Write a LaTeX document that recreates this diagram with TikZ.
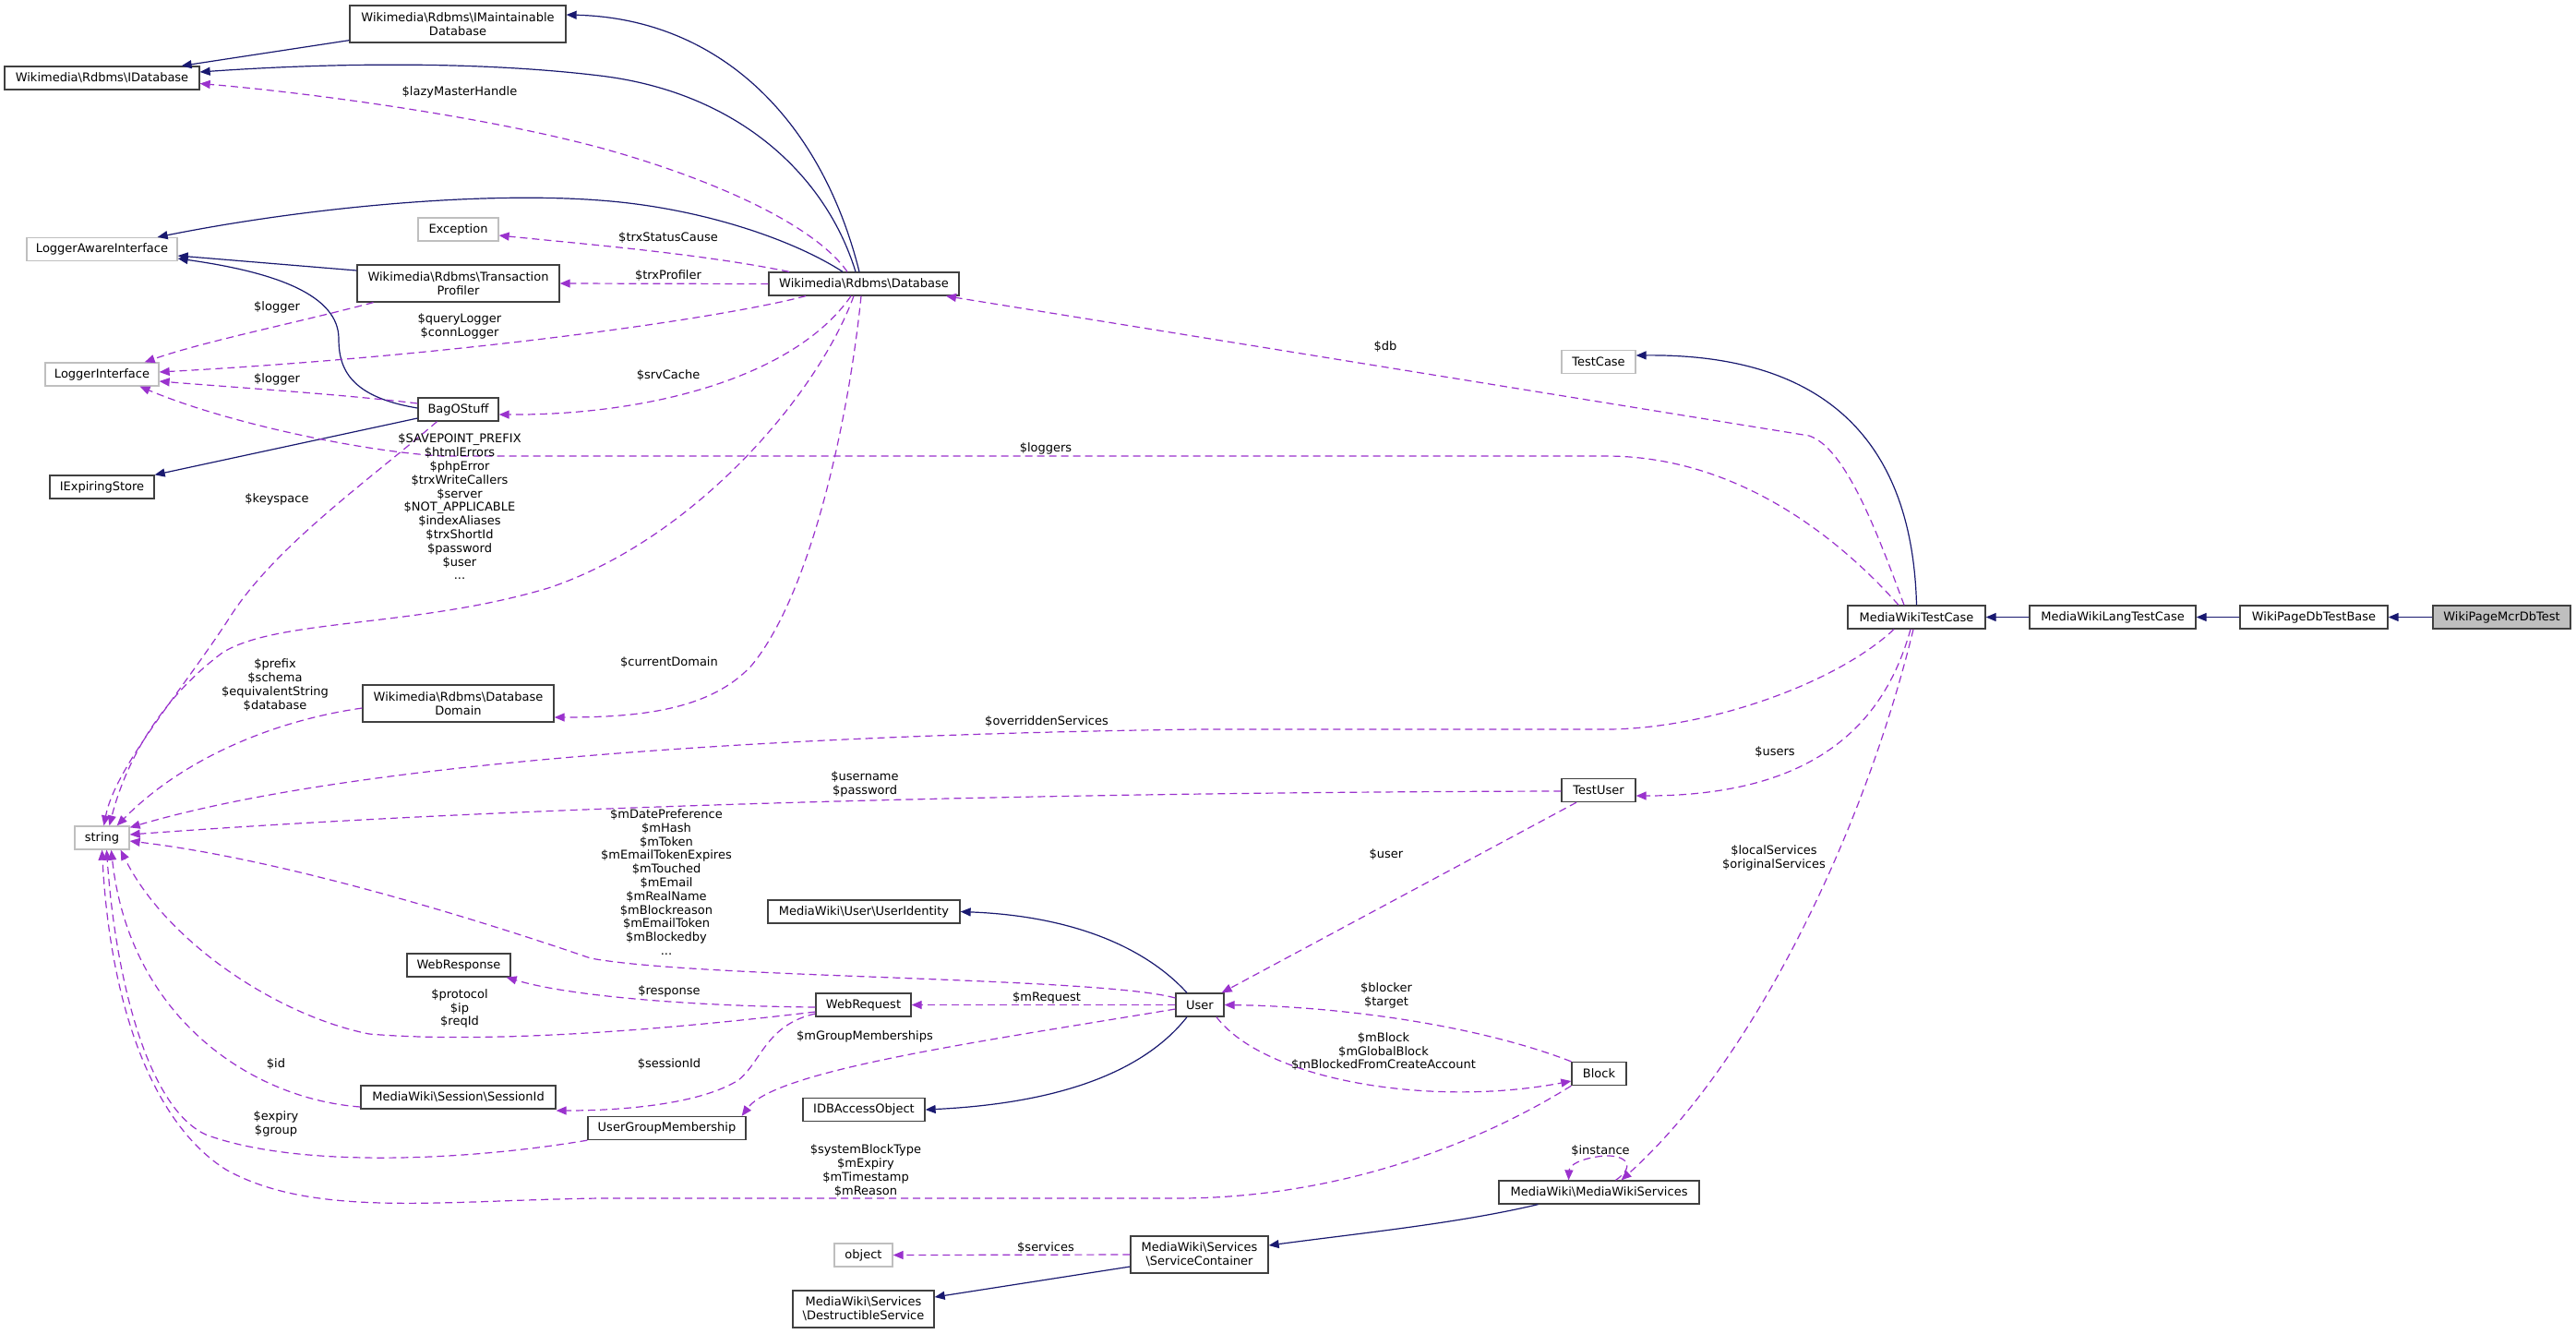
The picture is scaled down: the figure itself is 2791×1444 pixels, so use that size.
\documentclass[tikz,border=0pt]{standalone}
\usepackage{fontspec}
\setmainfont{DejaVu Sans}
\usetikzlibrary{arrows.meta}
\definecolor{inhblue}{RGB}{25,25,112}
\definecolor{useorchid}{RGB}{154,50,205}
\definecolor{boxgray}{RGB}{191,191,191}
\newcommand{\dxfont}{\fontsize{13}{14.8}\selectfont}
\newcommand{\dxbs}{\textbackslash}

\begin{document}
\begin{tikzpicture}[x=1pt, y=-1pt,
    cls/.style={draw=black!75, line width=1.3pt, fill=white, font=\dxfont,
               align=center, inner sep=0pt, minimum height=25pt},
    tall/.style={cls, minimum height=40pt},
    extcls/.style={cls, draw=boxgray},
    inh/.style={inhblue, line width=1.2pt, -{Triangle[length=11pt,width=9pt]}},
    member/.style={useorchid, line width=1.2pt, dash pattern=on 8pt off 5pt,
               -{Triangle[length=11pt,width=9pt]}},
    lbl/.style={font=\dxfont, align=center, inner sep=0pt}]
    \path[use as bounding box, fill=white] (0,0) rectangle (2791,1444);

    % Column 1
    \node[cls, minimum width=211pt] (idb) at (110.5,84.5) {Wikimedia\dxbs Rdbms\dxbs IDatabase};
    \node[extcls, minimum width=163pt] (lai) at (110.5,270) {LoggerAwareInterface};
    \node[extcls, minimum width=123pt] (li) at (110.5,405.5) {LoggerInterface};
    \node[cls, minimum width=113pt] (ies) at (110.5,527.5) {IExpiringStore};
    \node[extcls, minimum width=59pt] (str) at (110.5,907.5) {string};
    % Column 2
    \node[tall, minimum width=234pt] (imaint) at (496,26) {Wikimedia\dxbs Rdbms\dxbs IMaintainable\\Database};
    \node[extcls, minimum width=87pt] (exc) at (496.5,248.5) {Exception};
    \node[tall, minimum width=219pt] (trxprof) at (496.5,307) {Wikimedia\dxbs Rdbms\dxbs Transaction\\Profiler};
    \node[cls, minimum width=87pt] (bag) at (496.5,443.5) {BagOStuff};
    \node[tall, minimum width=207pt] (dbdom) at (496.5,762) {Wikimedia\dxbs Rdbms\dxbs Database\\Domain};
    \node[cls, minimum width=112pt] (wresp) at (497,1045.5) {WebResponse};
    \node[cls, minimum width=211pt] (sessid) at (496.5,1188.5) {MediaWiki\dxbs Session\dxbs SessionId};
    \node[cls, minimum width=171pt] (ugm) at (722.5,1222) {UserGroupMembership};
    % Column 3
    \node[cls, minimum width=206pt] (dbase) at (936,307.5) {Wikimedia\dxbs Rdbms\dxbs Database};
    \node[cls, minimum width=208pt] (uid) at (936,987.5) {MediaWiki\dxbs User\dxbs UserIdentity};
    \node[cls, minimum width=103pt] (wreq) at (935.5,1088.5) {WebRequest};
    \node[cls, minimum width=132pt] (idbao) at (936,1202) {IDBAccessObject};
    \node[extcls, minimum width=63pt] (obj) at (935.5,1359.5) {object};
    \node[tall, minimum width=153pt] (destr) at (935.5,1418) {MediaWiki\dxbs Services\\\dxbs DestructibleService};
    % Column 4
    \node[cls, minimum width=52pt] (user) at (1300,1088.5) {User};
    \node[tall, minimum width=149pt] (svcc) at (1299.5,1359) {MediaWiki\dxbs Services\\\dxbs ServiceContainer};
    % Column 5
    \node[extcls, minimum width=80pt] (tcase) at (1732,392) {TestCase};
    \node[cls, minimum width=80pt] (tuser) at (1732,856) {TestUser};
    \node[cls, minimum width=59pt] (block) at (1732.5,1163) {Block};
    \node[cls, minimum width=217pt] (mws) at (1732.5,1291.5) {MediaWiki\dxbs MediaWikiServices};
    % Test case chain
    \node[cls, minimum width=149pt] (mwtc) at (2076.5,668.5) {MediaWikiTestCase};
    \node[cls, minimum width=180pt] (mwltc) at (2289,668.5) {MediaWikiLangTestCase};
    \node[cls, minimum width=160pt] (wpdtb) at (2507,668.5) {WikiPageDbTestBase};
    \node[cls, minimum width=149pt, fill=boxgray] (wpmdt) at (2710.5,668.5) {WikiPageMcrDbTest};

    % Inheritance
    \draw[inh] ([yshift=3pt]imaint.south west) -- ([xshift=-20pt]idb.north east);
    \draw[inh] ([xshift=-5pt]dbase.north) .. controls (890,130) and (780,20) .. ([yshift=10pt]imaint.east);
    \draw[inh] ([xshift=-9pt]dbase.north) .. controls (895,190) and (800,100) .. (650,82)
      .. controls (500,64) and (330,70) .. ([yshift=6.5pt]idb.east);
    \draw[inh] ([xshift=-23pt]dbase.north) .. controls (860,260) and (760,225) .. (650,217)
      .. controls (520,207) and (330,225) .. ([xshift=-22pt]lai.north east);
    \draw[inh] ([yshift=14pt]trxprof.west) -- ([yshift=-7pt]lai.east);
    \draw[inh] ([yshift=1.5pt]bag.west) .. controls (380,430) and (367,400) .. (367,367)
      .. controls (367,320) and (300,295) .. ([yshift=-10pt]lai.east);
    \draw[inh] ([yshift=-9.5pt]bag.west) -- (ies.north east);
    \draw[inh] (mwtc.north) .. controls (2072,480) and (1980,383) .. ([yshift=7pt]tcase.east);
    \draw[inh] (mwltc) -- (mwtc);
    \draw[inh] (wpdtb) -- (mwltc);
    \draw[inh] (wpmdt) -- (wpdtb);
    \draw[inh] ([xshift=-14pt]user.north) .. controls (1240,1025) and (1160,992) .. (uid.east);
    \draw[inh] ([xshift=-14pt]user.south) .. controls (1240,1160) and (1150,1195) .. (idbao.east);
    \draw[inh] ([xshift=43pt]mws.south west) .. controls (1580,1325) and (1480,1335) .. ([yshift=10pt]svcc.east);
    \draw[inh] ([yshift=-13pt]svcc.west) -- ([yshift=13pt]destr.east);

    % Members of Database
    \draw[member] ([xshift=-18pt]dbase.north) .. controls (880,240) and (760,190) .. (650,160)
      .. controls (520,125) and (330,100) .. ([yshift=-6pt]idb.east);
    \draw[member] ([xshift=-81pt]dbase.north) .. controls (760,275) and (640,265) .. ([yshift=-6.5pt]exc.east);
    \draw[member] (dbase.west) -- (trxprof.east);
    \draw[member] ([xshift=-63pt]dbase.south) .. controls (780,345) and (500,385) .. ([yshift=2.5pt]li.east);
    \draw[member] ([xshift=-14pt]dbase.south) .. controls (860,410) and (700,450) .. ([yshift=-5.5pt]bag.east);
    \draw[member] ([xshift=-11pt]dbase.south) .. controls (885,430) and (750,585) .. (594,637)
      .. controls (450,680) and (300,670) .. (241,707)
      .. controls (170,760) and (135,830) .. ([xshift=8pt]str.north);
    \draw[member] ([xshift=-3pt]dbase.south) .. controls (920,450) and (880,640) .. (815,720)
      .. controls (770,770) and (690,777) .. ([yshift=-15pt]dbdom.east);
    % Members of the other Rdbms classes
    \draw[member] ([xshift=-92pt]trxprof.south) .. controls (320,350) and (220,370) .. ([xshift=-16pt]li.north east);
    \draw[member] ([yshift=6.5pt]bag.west) .. controls (380,428) and (260,420) .. ([yshift=-7.5pt]li.east);
    \draw[member] ([xshift=-23pt]bag.south) .. controls (400,520) and (300,590) .. (250,667)
      .. controls (200,745) and (125,830) .. ([xshift=2pt]str.north);
    \draw[member] ([yshift=-5pt]dbdom.west) .. controls (300,780) and (200,820) .. ([xshift=-14pt]str.north east);
    % Members of MediaWikiTestCase
    \draw[member] ([xshift=-13.5pt]mwtc.north) .. controls (2035,580) and (2000,485) .. (1960,472)
      -- ([xshift=89pt]dbase.south);
    \draw[member] ([xshift=-19.5pt]mwtc.north) .. controls (1990,580) and (1880,494) .. (1740,494)
      -- (480,494) .. controls (400,490) and (250,460) .. ([xshift=41pt]li.south);
    \draw[member] ([xshift=-24.5pt]mwtc.south) .. controls (1990,740) and (1850,790) .. (1740,790)
      -- (1300,790) .. controls (900,795) and (400,820) .. ([yshift=-2pt]str.north east);
    \draw[member] ([xshift=-6.5pt]mwtc.south) .. controls (2040,790) and (1960,862) .. ([yshift=-6pt]tuser.east);
    \draw[member] ([xshift=-3.5pt]mwtc.south) .. controls (2020,900) and (1900,1150) .. ([xshift=24pt]mws.north);
    % Members of TestUser, User, Block
    \draw[member] ([yshift=-1pt]tuser.west) .. controls (1200,858) and (600,870) .. ([yshift=3.5pt]str.east);
    \draw[member] ([xshift=-24pt]tuser.south) -- ([xshift=-3pt]user.north east);
    \draw[member] ([yshift=7.5pt]user.west) .. controls (1190,1058) and (760,1060) .. (640,1038)
      .. controls (500,990) and (300,930) .. ([yshift=-3.5pt]str.east);
    \draw[member] (user.west) -- (wreq.east);
    \draw[member] ([yshift=-4.5pt]user.west) .. controls (1050,1130) and (840,1160) .. ([xshift=-5pt]ugm.north east);
    \draw[member] ([xshift=18pt]user.south) .. controls (1370,1170) and (1550,1200) .. ([yshift=-8pt]block.west);
    \draw[member] (block.north west) .. controls (1600,1110) and (1450,1090) .. (user.east);
    \draw[member] (block.south west) .. controls (1600,1240) and (1450,1297) .. (1280,1298)
      -- (650,1298) .. controls (480,1300) and (340,1320) .. (245,1267)
      .. controls (170,1220) and (120,1100) .. (str.south);
    % Members of WebRequest and friends
    \draw[member] ([yshift=-2.5pt]wreq.west) .. controls (760,1090) and (620,1080) .. ([xshift=-5pt]wresp.south east);
    \draw[member] ([yshift=-7.5pt]wreq.west) .. controls (700,1118) and (520,1130) .. (400,1120)
      .. controls (300,1100) and (180,1020) .. ([xshift=-10pt]str.south east);
    \draw[member] ([yshift=-9.5pt]wreq.west) .. controls (830,1110) and (825,1150) .. (800,1170)
      .. controls (760,1195) and (680,1203) .. ([yshift=-14.5pt]sessid.east);
    \draw[member] ([yshift=-10.5pt]sessid.west) .. controls (270,1190) and (140,1100) .. ([xshift=10pt]str.south);
    \draw[member] (ugm.south west) .. controls (500,1258) and (320,1265) .. (223,1229)
      .. controls (160,1200) and (125,1060) .. ([xshift=5pt]str.south);
    % Service classes
    \draw[member] (svcc.west) -- (obj.east);
    \draw[member] ([xshift=18pt]mws.north) .. controls (1775,1262) and (1760,1248) .. (1730,1253)
      .. controls (1705,1257) and (1700,1265) .. ([xshift=-33pt]mws.north);

    % Edge labels
    \node[lbl] (lLazy) at (498,100) {\$lazyMasterHandle};
    \node[lbl] (lTrxStatus) at (724,258) {\$trxStatusCause};
    \node[lbl] (lTrxProf) at (724,299) {\$trxProfiler};
    \node[lbl] (lQuery) at (498,353.5) {\$queryLogger\\\$connLogger};
    \node[lbl] (lLogTP) at (300,333) {\$logger};
    \node[lbl] (lLogBag) at (300,411) {\$logger};
    \node[lbl] (lSrv) at (724,407) {\$srvCache};
    \node[lbl] (lKey) at (300,541) {\$keyspace};
    \node[lbl] (lSave) at (498,549) {\$SAVEPOINT\_PREFIX\\\$htmlErrors\\\$phpError\\\$trxWriteCallers\\\$server\\\$NOT\_APPLICABLE\\\$indexAliases\\\$trxShortId\\\$password\\\$user\\...};
    \node[lbl] (lLoggers) at (1133,486) {\$loggers};
    \node[lbl] (lDb) at (1501,376) {\$db};
    \node[lbl] (lCurDom) at (725,718) {\$currentDomain};
    \node[lbl] (lPrefix) at (298,742) {\$prefix\\\$schema\\\$equivalentString\\\$database};
    \node[lbl] (lOverr) at (1134,782) {\$overriddenServices};
    \node[lbl] (lUsername) at (937,849.5) {\$username\\\$password};
    \node[lbl] (lUsers) at (1923,815) {\$users};
    \node[lbl] (lMDate) at (722,955.5) {\$mDatePreference\\\$mHash\\\$mToken\\\$mEmailTokenExpires\\\$mTouched\\\$mEmail\\\$mRealName\\\$mBlockreason\\\$mEmailToken\\\$mBlockedby\\...};
    \node[lbl] (lUserTU) at (1502,925) {\$user};
    \node[lbl] (lLocal) at (1922,929.5) {\$localServices\\\$originalServices};
    \node[lbl] (lResp) at (725,1074) {\$response};
    \node[lbl] (lMReq) at (1134,1081) {\$mRequest};
    \node[lbl] (lBlocker) at (1502,1078.5) {\$blocker\\\$target};
    \node[lbl] (lProto) at (498,1092.5) {\$protocol\\\$ip\\\$reqId};
    \node[lbl] (lMGroup) at (937,1123) {\$mGroupMemberships};
    \node[lbl] (lMBlock) at (1499,1139) {\$mBlock\\\$mGlobalBlock\\\$mBlockedFromCreateAccount};
    \node[lbl] (lSessId) at (725,1152) {\$sessionId};
    \node[lbl] (lId) at (299,1152) {\$id};
    \node[lbl] (lExpiry) at (299,1217.5) {\$expiry\\\$group};
    \node[lbl] (lSysBlock) at (938,1268) {\$systemBlockType\\\$mExpiry\\\$mTimestamp\\\$mReason};
    \node[lbl] (lInstance) at (1734,1246) {\$instance};
    \node[lbl] (lServices) at (1133,1351) {\$services};
\end{tikzpicture}
\end{document}
